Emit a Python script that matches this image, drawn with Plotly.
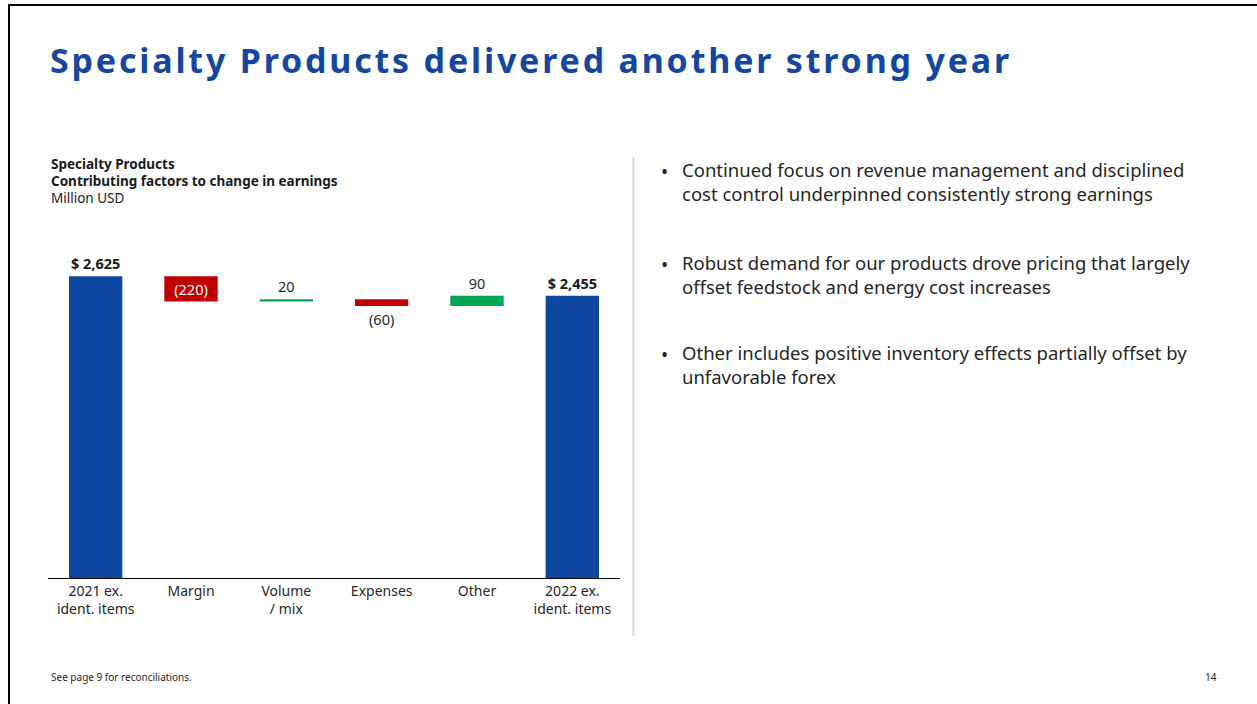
import plotly.graph_objects as go

categories = ["2021 ex.<br>ident. items", "Margin", "Volume<br>/ mix", "Expenses", "Other", "2022 ex.<br>ident. items"]
values = [2625, -220, 20, -60, 90, 2455]
measures = ["absolute", "relative", "relative", "relative", "relative", "total"]
labels = ["<b>$ 2,625</b>", "(220)", "20", "(60)", "90", "<b>$ 2,455</b>"]
label_pos = ["outside", "inside", "outside", "outside", "outside", "outside"]
label_colors = ["#1a1a1a", "#ffffff", "#262626", "#262626", "#262626", "#1a1a1a"]

title = "Specialty Products delivered another strong year"
subtitle_lines = ["<b>Specialty Products</b>", "<b>Contributing factors to change in earnings</b>", "Million USD"]
bullets = [
    "Continued focus on revenue management and disciplined<br>cost control underpinned consistently strong earnings",
    "Robust demand for our products drove pricing that largely<br>offset feedstock and energy cost increases",
    "Other includes positive inventory effects partially offset by<br>unfavorable forex",
]
footer = "See page 9 for reconciliations."
page_no = "14"

W, H = 1257, 704
FONT = "Noto Sans"
BLUE = "#0E47A1"
RED = "#C00000"
GREEN = "#00A651"


def px(x):
    return x / W


def py(y):
    return 1 - y / H


fig = go.Figure()
fig.add_trace(go.Waterfall(
    x=categories,
    y=values,
    measure=measures,
    text=labels,
    textposition=label_pos,
    textfont=dict(family=FONT, size=14.5, color=label_colors),
    insidetextanchor="middle",
    constraintext="none",
    cliponaxis=False,
    width=0.56,
    increasing=dict(marker=dict(color=GREEN)),
    decreasing=dict(marker=dict(color=RED)),
    totals=dict(marker=dict(color=BLUE)),
    connector=dict(visible=False),
    hoverinfo="skip",
))

fig.update_layout(
    width=W, height=H,
    margin=dict(l=0, r=0, t=0, b=0),
    paper_bgcolor="white", plot_bgcolor="white",
    showlegend=False,
    xaxis=dict(domain=[px(48), px(620)], showline=True, linecolor="#000000", linewidth=1,
               ticks="", showgrid=False, zeroline=False,
               tickfont=dict(family=FONT, size=14, color="#262626")),
    yaxis=dict(domain=[py(578), py(210)], range=[0, 3200], visible=False, showgrid=False, zeroline=False),
)

annotations = []
annotations.append(dict(text='<span style="letter-spacing:2.8px">' + title + '</span>', x=px(48), y=py(60),
                        xref="paper", yref="paper", xanchor="left", yanchor="middle",
                        showarrow=False, font=dict(family=FONT, size=34, color="#1547A0", weight="bold")))
for i, t in enumerate(subtitle_lines):
    annotations.append(dict(text=t, x=px(49), y=py(164 + 17 * i), xref="paper", yref="paper", xanchor="left",
                            yanchor="middle", showarrow=False, font=dict(family=FONT, size=13.5, color="#1a1a1a")))
bullet_y = [170, 263, 353]
for yy, b in zip(bullet_y, bullets):
    annotations.append(dict(text="•", x=px(659), y=py(yy + 2), xref="paper", yref="paper", xanchor="left",
                            yanchor="middle", showarrow=False, font=dict(family=FONT, size=19, color="#262626")))
    annotations.append(dict(text=b, x=px(680), y=py(yy - 15), xref="paper", yref="paper",
                            xanchor="left", yanchor="top", align="left", showarrow=False,
                            font=dict(family=FONT, size=18.5, color="#262626")))
annotations.append(dict(text=footer, x=px(49), y=py(677), xref="paper", yref="paper", xanchor="left", yanchor="middle",
                        showarrow=False, font=dict(family=FONT, size=10, color="#262626")))
annotations.append(dict(text=page_no, x=px(1219), y=py(677), xref="paper", yref="paper", xanchor="right",
                        yanchor="middle", showarrow=False, font=dict(family=FONT, size=10, color="#262626")))
fig.update_layout(annotations=annotations)

shapes = [
    dict(type="line", xref="paper", yref="paper", x0=px(633.5), x1=px(633.5), y0=py(157), y1=py(636),
         line=dict(color="#D9D9D9", width=2)),
    dict(type="line", xref="paper", yref="paper", x0=px(9), x1=px(9), y0=py(5), y1=0,
         line=dict(color="#000000", width=2)),
    dict(type="line", xref="paper", yref="paper", x0=px(8), x1=1, y0=py(5), y1=py(5),
         line=dict(color="#000000", width=2)),
]
fig.update_layout(shapes=shapes)

fig.write_html("out.html", config={"displayModeBar": False},
               post_script="document.body.style.margin='0px';")
